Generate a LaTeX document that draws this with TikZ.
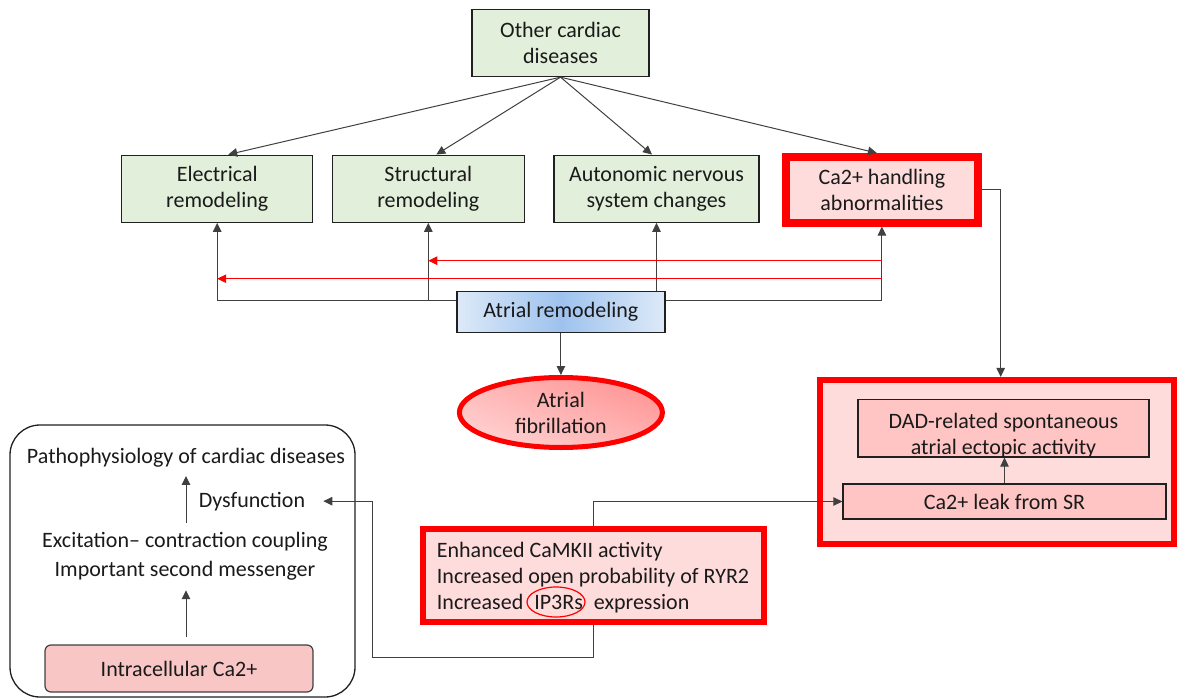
\documentclass[tikz,border=0pt]{standalone}
\usepackage{fontspec}
\setmainfont{Carlito}
\usetikzlibrary{arrows.meta,shapes.geometric,calc,shadings}
\definecolor{gfill}{HTML}{E2EFDA}
\definecolor{pfill}{HTML}{FFDCDC}
\definecolor{pfilltwo}{HTML}{FFC4C4}
\definecolor{ifill}{HTML}{F9C6C6}
\definecolor{blueedge}{HTML}{DDEAF8}
\definecolor{bluemid}{HTML}{9EC2EE}
\definecolor{bord}{HTML}{202020}
\definecolor{ln}{HTML}{404040}
\definecolor{txt}{HTML}{1A1A1A}
\begin{document}
\begin{tikzpicture}[x=1pt,y=-1pt,
  every node/.style={font=\fontsize{22}{26}\selectfont, text=txt},
  box/.style={draw=bord, line width=1.3pt, align=center, inner sep=0pt},
  gbox/.style={box, fill=gfill, minimum height=67},
  conn/.style={draw=ln, line width=1pt, -{Triangle[length=9pt,width=8.5pt]}},
  redconn/.style={draw=red, line width=1pt, -{Triangle[length=9pt,width=8.5pt]}}]
\useasboundingbox (0,0) rectangle (1177,698);

% top row
\node[gbox, minimum width=177] (top) at (560.5,43) {Other cardiac\\diseases};
\node[gbox, minimum width=191] (elec) at (217.2,188.7) {Electrical\\remodeling};
\node[gbox, minimum width=192] (struct) at (428.3,188.7) {Structural\\remodeling};
\node[gbox, minimum width=205] (auto) at (656.5,188.7) {Autonomic nervous\\system changes};
\node[box, draw=red, line width=7.5pt, fill=pfill, minimum width=192, minimum height=66] (ca) at (881.9,189.8) {Ca2+ handling\\abnormalities};

% atrial remodeling and fibrillation
\node[box, left color=blueedge, right color=blueedge, middle color=bluemid, minimum width=208, minimum height=41.5] (ar) at (560.9,311.9) {Atrial remodeling};
\node[ellipse, draw=red, line width=5pt, upper right=red!45, lower left=red!15, upper left=red!28, lower right=red!30, minimum width=203, minimum height=70, align=center, inner sep=0pt] (af) at (560.9,412.5) {Atrial\\fibrillation};

% right big box
\node[box, draw=red, line width=6pt, fill=pfill, minimum width=354, minimum height=164] (big) at (997.2,461.9) {};
\node[box, fill=pfilltwo, minimum width=291, minimum height=57.5] (dad) at (1003.5,428.2) {};
\node[align=center, inner sep=0pt] (dadtxt) at (1003.5,436) {DAD-related spontaneous\\atrial ectopic activity};
\node[box, fill=pfilltwo, minimum width=323, minimum height=35] (leak) at (1004.5,501.5) {Ca2+ leak from SR};

% CaMKII box
\node[box, draw=red, line width=6pt, fill=pfill, minimum width=341, minimum height=93] (camk) at (593.5,575.5) {};
\node[anchor=west, align=left, inner sep=0pt] (camktxt) at (436.7,577.5) {Enhanced CaMKII activity\\Increased open probability of RYR2\\Increased\hspace{11pt}IP3Rs\hspace{11pt}expression};
\node[ellipse, draw=red, line width=1.2pt, minimum width=58, minimum height=30, inner sep=0pt] (ip3) at (556,602) {};

% bottom-left panel
\node[draw=bord, line width=1.3pt, rounded corners=30pt, minimum width=345, minimum height=272, inner sep=0pt] (panel) at (182.5,561) {};
\node[anchor=base, inner sep=0pt] (patho) at (186,463) {Pathophysiology of cardiac diseases};
\node[anchor=base, inner sep=0pt] (dys) at (252,507) {Dysfunction};
\node[align=center, inner sep=0pt, font=\fontsize{22}{29}\selectfont] (exc) at (185,556) {Excitation– contraction coupling\\Important second messenger};
\node[draw=ln, line width=1.2pt, fill=ifill, rounded corners=6pt, minimum width=268, minimum height=47, inner sep=0pt] (intra) at (179,668.5) {Intracellular Ca2+};

% connectors
\draw[conn] (top.south) -- ([xshift=11pt]elec.north);
\draw[conn] (top.south) -- ([xshift=8pt]struct.north);
\draw[conn] (top.south) -- ([xshift=-4.5pt]auto.north);
\draw[conn] (top.south) -- ([xshift=-5pt]ca.north);

\coordinate (hl) at (218,300);
\draw[conn] (ar.west |- hl) -| (elec.south);
\draw[conn] (struct.south |- hl) -- (struct.south);
\draw[conn] (auto.south |- ar.north) -- (auto.south);
\draw[conn] (ar.east |- hl) -| (ca.south);
\coordinate (r1) at (881.9,260.7);
\coordinate (r2) at (881.9,278.7);
\draw[redconn] (r1) -- (r1 -| struct.south);
\draw[redconn] (r2) -- (r2 -| elec.south);
\draw[conn] (ar.south) -- (af.north);

\draw[conn] (ca.east) -| ([xshift=3.5pt]big.north);
\draw[conn] (leak.north) -- (leak.north |- dad.south);
\draw[conn] (camk.north) |- (leak.west);
\coordinate (c1) at (372.7,657);
\draw[conn] (camk.south) |- (c1) |- ([xshift=18pt]dys.east);

\draw[conn, shorten <=9pt, shorten >=9pt] (exc.north -| patho.south) -- (patho.south);
\draw[conn, shorten <=7pt, shorten >=10pt] (intra.north -| patho.south) -- (exc.south -| patho.south);
\end{tikzpicture}
\end{document}
